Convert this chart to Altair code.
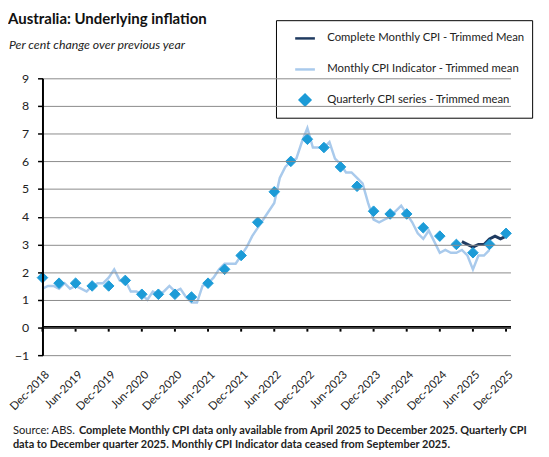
import altair as alt
import pandas as pd

# ---------------- data ----------------
tick_labels = ["Dec-2018", "Jun-2019", "Dec-2019", "Jun-2020", "Dec-2020", "Jun-2021",
               "Dec-2021", "Jun-2022", "Dec-2022", "Jun-2023", "Dec-2023", "Jun-2024",
               "Dec-2024", "Jun-2025", "Dec-2025"]

# Monthly CPI Indicator - Trimmed mean, Dec-2018 .. Sep-2025
indicator = [1.4, 1.5, 1.5, 1.4, 1.6, 1.4, 1.5, 1.4, 1.3, 1.5, 1.6, 1.6,
             1.8, 2.1, 1.7, 1.7, 1.3, 1.3, 1.2, 1.0, 1.3, 1.2, 1.3, 1.5,
             1.3, 1.4, 1.1, 0.9, 0.9, 1.5, 1.6, 1.8, 2.1, 2.3, 2.3, 2.3,
             2.6, 2.9, 3.3, 3.6, 3.9, 4.2, 4.5, 5.4, 5.8, 6.0, 6.1, 6.7,
             7.2, 6.5, 6.5, 6.5, 6.7, 6.1, 5.9, 5.6, 5.6, 5.4, 5.2, 4.5,
             3.9, 3.8, 3.9, 4.0, 4.2, 4.4, 4.1, 3.8, 3.4, 3.2, 3.5, 3.1,
             2.7, 2.8, 2.7, 2.7, 2.8, 2.6, 2.1, 2.6, 2.6, 2.8]

# Quarterly CPI series - Trimmed mean, Dec-2018 .. Dec-2025
quarterly = [1.8, 1.6, 1.6, 1.5, 1.5, 1.7, 1.2, 1.2, 1.2, 1.1, 1.6, 2.1, 2.6, 3.8, 4.9,
             6.0, 6.8, 6.5, 5.8, 5.1, 4.2, 4.1, 4.1, 3.6, 3.3, 3.0, 2.7, 3.0, 3.4]

# Complete Monthly CPI - Trimmed Mean, Apr-2025 .. Dec-2025
complete = [3.1, 3.0, 2.9, 3.0, 3.0, 3.2, 3.3, 3.2, 3.3]

S1 = "Complete Monthly CPI - Trimmed Mean"
S2 = "Monthly CPI Indicator - Trimmed mean"
S3 = "Quarterly CPI series - Trimmed mean"

TITLE = "Australia: Underlying inflation"
SUBTITLE = "Per cent change over previous year"
NOTE_SRC = "Source: ABS."
NOTE_1 = "Complete Monthly CPI data only available from April 2025 to December 2025. Quarterly CPI"
NOTE_2 = "data to December quarter 2025. Monthly CPI Indicator data ceased from September 2025."

months = [str(p) for p in pd.period_range("2018-12", "2025-12", freq="M")]
idx = {m: i for i, m in enumerate(months)}

ind_months = months[:len(indicator)]
q_months = months[::3]
c_months = months[months.index("2025-04"):]

ind_df = pd.DataFrame({"month": ind_months, "m": [idx[m] for m in ind_months],
                       "value": indicator, "series": S2})
q_df = pd.DataFrame({"month": q_months, "m": [idx[m] for m in q_months],
                     "value": quarterly, "series": S3})
c_df = pd.DataFrame({"month": c_months, "m": [idx[m] for m in c_months],
                     "value": complete, "series": S1})
tick_df = pd.DataFrame({"label": tick_labels,
                        "m": [i * 6 for i in range(len(tick_labels))]})

# ---------------- style ----------------
FONT = "Lato"
DARK = "#1F3A60"
LIGHT = "#A9CAEC"
DIAM = "#1C9BD7"
TXT = "#222222"
W, H = 475, 281

dom = [S1, S2, S3]
color_scale = alt.Scale(domain=dom, range=[DARK, LIGHT, DIAM])
shape_scale = alt.Scale(domain=dom, range=["stroke", "stroke", "diamond"])
size_scale = alt.Scale(type="ordinal", domain=dom, range=[400, 400, 115])

legend = alt.Legend(title=None, orient="none", legendX=237, legendY=-59,
                    strokeColor="black", fillColor="white", padding=7,
                    rowPadding=14.5, symbolOffset=11, labelOffset=11,
                    symbolStrokeWidth=2.5, labelFont=FONT, labelFontSize=11.5,
                    labelColor=TXT, labelLimit=400)

label_expr = "[" + ",".join(f"'{t}'" for t in tick_labels) + "][round(datum.value/6)]"

x_scale = alt.Scale(domain=[0, 84.8], nice=False, zero=False)
y_scale = alt.Scale(domain=[-1, 9], nice=False)

x_enc = alt.X("m:Q", scale=x_scale,
              axis=alt.Axis(values=list(range(0, 85, 6)), tickCount=40,
                            labelExpr=label_expr, offset=-H * 0.1,
                            domain=False, ticks=False,
                            labelAngle=-45, labelAlign="right", labelBaseline="middle",
                            labelPadding=46, labelOffset=5, labelOverlap=False,
                            grid=False, title=None,
                            labelFont=FONT, labelFontSize=11.5, labelColor=TXT))
y_enc = alt.Y("value:Q", scale=y_scale,
              axis=alt.Axis(values=list(range(-1, 10)), tickCount=40, format="d",
                            tickSize=5, tickColor="black", zindex=1,
                            tickWidth=1.5, domainColor="black", domainWidth=2,
                            gridColor="#8a8a8a", gridWidth=1, labelPadding=9,
                            labelOverlap=False, title=None, labelFont=FONT,
                            labelFontSize=12.5, labelColor=TXT))

ind_line = alt.Chart(ind_df).mark_line(strokeWidth=2.5).encode(
    x=x_enc, y=y_enc,
    color=alt.Color("series:N", scale=color_scale, legend=legend))

comp_line = alt.Chart(c_df).mark_line(strokeWidth=3).encode(
    x="m:Q", y="value:Q",
    color=alt.Color("series:N", scale=color_scale, legend=legend))

q_points = alt.Chart(q_df).mark_point(filled=True, opacity=1, strokeWidth=1).encode(
    x="m:Q", y="value:Q",
    color=alt.Color("series:N", scale=color_scale, legend=legend),
    stroke=alt.Stroke("series:N", scale=color_scale, legend=legend),
    shape=alt.Shape("series:N", scale=shape_scale, legend=legend),
    size=alt.Size("series:N", scale=size_scale, legend=legend))

# x axis line drawn at zero with its tick marks
zero_line = alt.Chart(tick_df).mark_rule(color="black", strokeWidth=2.5).encode(
    y=alt.datum(0), x=alt.value(0), x2=alt.value(W))
x_ticks = alt.Chart(tick_df).mark_rule(color="black", strokeWidth=2).encode(
    x="m:Q", y=alt.datum(0), y2=alt.datum(-0.15))


def text_layer(txt, x, y, size, weight="normal", style="normal", color=TXT):
    return alt.Chart(pd.DataFrame({"t": [txt]})).mark_text(
        align="left", baseline="alphabetic", font=FONT, fontSize=size,
        fontWeight=weight, fontStyle=style, color=color
    ).encode(text="t:N", x=alt.value(x), y=alt.value(y))


title_t = text_layer(TITLE, -35, -55, 15.2, weight="bold", color="#111111")
subtitle_t = text_layer(SUBTITLE, -34, -30, 12.5, style="italic")
note_src = text_layer(NOTE_SRC, -30, 361, 11.3)
note1 = text_layer(NOTE_1, 37, 361, 11.1, weight="bold")
note2 = text_layer(NOTE_2, -30, 375, 11.1, weight="bold")

chart = alt.layer(ind_line, comp_line, q_points, zero_line, x_ticks,
                  title_t, subtitle_t, note_src, note1, note2).properties(
    width=W, height=H,
    autosize=alt.AutoSizeParams(type="none"),
    padding={"left": 35, "top": 68, "right": 31, "bottom": 100},
).configure_view(stroke=None)

chart.save("out.html", embed_options={"renderer": "svg", "actions": False})
